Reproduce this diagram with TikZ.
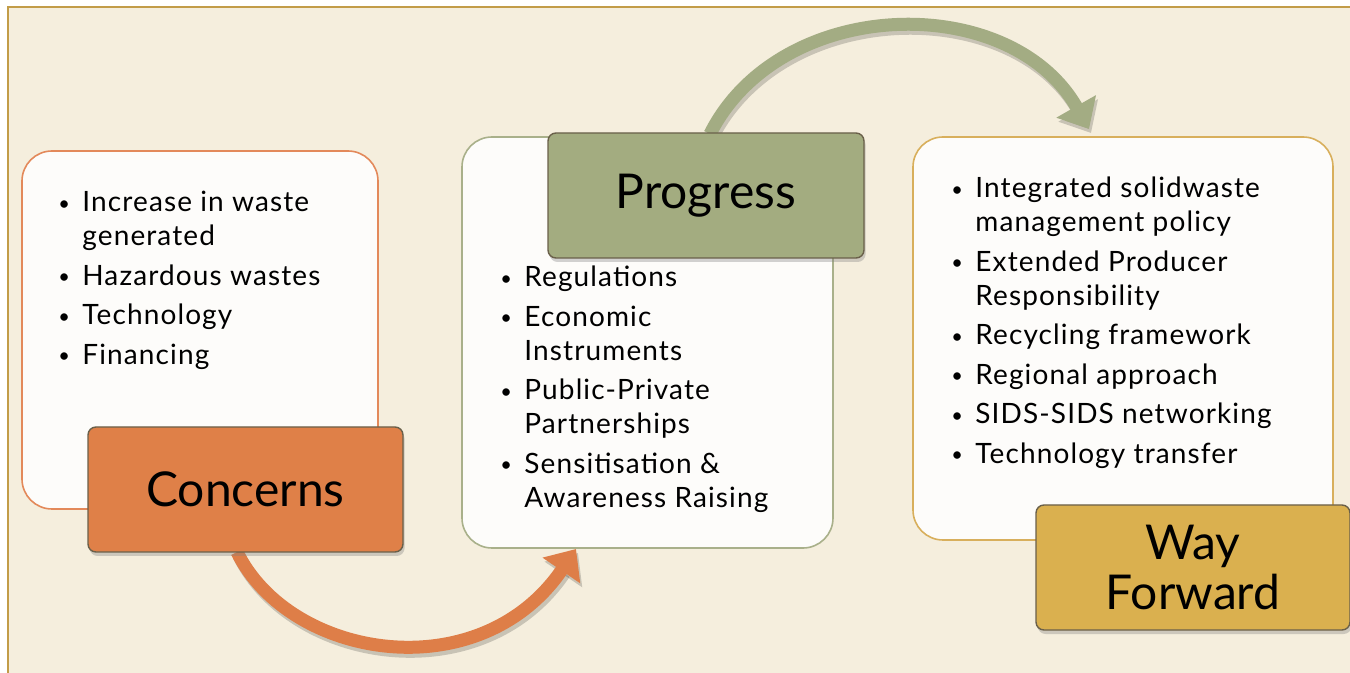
\documentclass[tikz,border=0pt]{standalone}
\usepackage{fontspec}
\setmainfont{Lato}
\usetikzlibrary{arrows.meta,shadows}
\definecolor{cream}{HTML}{F5EEDD}
\definecolor{framec}{HTML}{C29C48}
\definecolor{boxfill}{HTML}{FDFCFA}
\definecolor{orfill}{HTML}{DF8048}
\definecolor{orbord}{HTML}{E3895A}
\definecolor{orarrow}{HTML}{DE7E48}
\definecolor{grfill}{HTML}{A3AC80}
\definecolor{grbord}{HTML}{A9B08A}
\definecolor{grarrow}{HTML}{A3AC83}
\definecolor{gofill}{HTML}{DAB04F}
\definecolor{gobord}{HTML}{D8AF5C}
\definecolor{hdrbord}{HTML}{6A604A}
\newcommand\bl{\makebox[12pt][l]{\raisebox{0.8pt}{\fontsize{10pt}{10pt}\selectfont\textbullet}}}
\newcommand\ind{\hspace*{12pt}}
\begin{document}
\begin{tikzpicture}[x=0.5pt,y=-0.5pt,
  whitebox/.style={rectangle, rounded corners=15pt, fill=boxfill, line width=0.8pt, inner sep=0},
  header/.style={rectangle, rounded corners=4pt, draw=hdrbord, line width=0.7pt, inner sep=0,
     minimum height=62.5pt, font=\fontsize{24pt}{25pt}\selectfont, align=center,
     drop shadow={opacity=0.35, shadow xshift=0.8pt, shadow yshift=-2pt}},
  listtext/.style={inner sep=0, anchor=base west, font=\fontsize{14pt}{17pt}\selectfont\addfontfeature{LetterSpace=4}},
  bigarrow/.style={line width=6.5pt, -{Triangle[width=22pt,length=13pt]}},
  arrowshadow/.style={bigarrow, draw=black, opacity=0.18, transform canvas={xshift=1pt,yshift=-2pt}}
]
\useasboundingbox (0,0) rectangle (1350,673);
\fill[white] (0,0) rectangle (1350,673);
\draw[framec, line width=0.9pt, fill=cream] (8,7) rectangle (1380,700);

% white content boxes
\node[whitebox, draw=orbord, minimum width=178pt, minimum height=179pt] (cbox) at (200,330) {};
\node[whitebox, draw=grbord, minimum width=185.5pt, minimum height=205.5pt] (pbox) at (647.5,342.5) {};
\node[whitebox, draw=gobord, minimum width=210pt, minimum height=201.5pt] (wbox) at (1123,338.5) {};

% lists
\node[listtext] (clist) at (58,212) {\begin{tabular}[t]{@{}l@{}}
\bl Increase in waste\\
\ind generated\\[2.75pt]
\bl Hazardous wastes\\[2.75pt]
\bl Technology\\[2.75pt]
\bl Financing
\end{tabular}};
\node[listtext] (plist) at (500,287) {\begin{tabular}[t]{@{}l@{}}
\bl Regulations\\[2.75pt]
\bl Economic\\
\ind Instruments\\[2.75pt]
\bl Public-Private\\
\ind Partnerships\\[2.75pt]
\bl Sensitisation \&\\
\ind Awareness Raising
\end{tabular}};
\node[listtext] (wlist) at (951,198) {\begin{tabular}[t]{@{}l@{}}
\bl Integrated solidwaste\\
\ind management policy\\[2.75pt]
\bl Extended Producer\\
\ind Responsibility\\[2.75pt]
\bl Recycling framework\\[2.75pt]
\bl Regional approach\\[2.75pt]
\bl SIDS-SIDS networking\\[2.75pt]
\bl Technology transfer
\end{tabular}};

% connector end points
\coordinate (oa1) at (237,552);
\coordinate (oa2) at (576,549);
\coordinate (ga1) at (710,134);
\coordinate (ga2) at (1089,129);

% curved arrows
\draw[arrowshadow] (oa1) .. controls (290,660) and (480,690) .. (oa2);
\draw[bigarrow, draw=orarrow] (oa1) .. controls (290,660) and (480,690) .. (oa2);
\draw[arrowshadow] (ga1) .. controls (780,-5) and (1010,-10) .. (ga2);
\draw[bigarrow, draw=grarrow] (ga1) .. controls (780,-5) and (1010,-10) .. (ga2);

% headers
\node[header, fill=orfill, minimum width=157.5pt] (concerns) at (245.5,489.5) {Concerns};
\node[header, fill=grfill, minimum width=158pt] (progress) at (706,195.5) {Progress};
\node[header, fill=gofill, minimum width=157pt] (wayfwd) at (1193,567.5) {Way\\Forward};
\end{tikzpicture}
\end{document}
